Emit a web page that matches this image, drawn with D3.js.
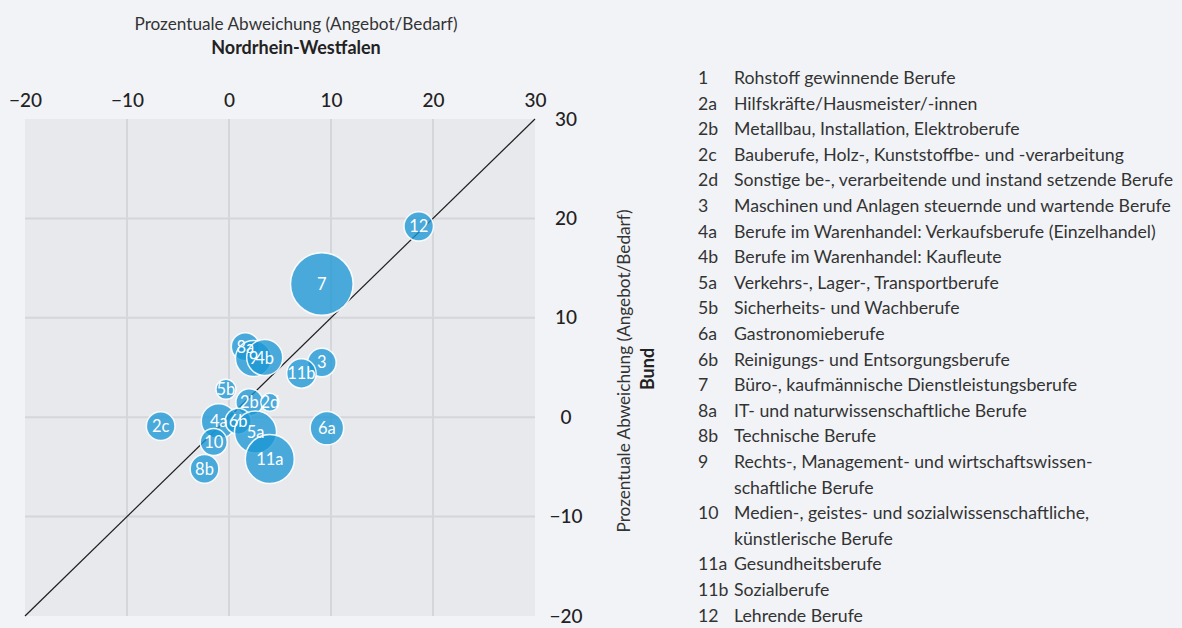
<!DOCTYPE html>
<html lang="de">
<head>
<meta charset="UTF-8">
<title>Prozentuale Abweichung NRW / Bund</title>
<script src="https://d3js.org/d3.v7.min.js"></script>
<style>
  body { margin: 0; background: #f2f3f7; }
  svg { font-family: Lato, "Noto Sans", sans-serif; }
</style>
</head>
<body>
<div id="chart"></div>
<script>
// Berufsgruppen (Kennung), Abweichung NRW (x), Abweichung Bund (y), Blasengroesse
const codes  = ["2c", "8a", "9", "4b", "3", "11b", "5b", "2b", "2d", "4a", "6b", "5a", "10", "8b", "11a", "6a", "12", "7"];
const nrw    = [-6.7, 1.6, 2.4, 3.5, 9.1, 7.1, -0.3, 2.0, 4.0, -1.0, 0.9, 2.6, -1.5, -2.4, 4.0, 9.6, 18.6, 9.1];
const bund   = [-0.9, 7.1, 5.9, 6.0, 5.5, 4.4, 2.8, 1.5, 1.5, -0.4, -0.4, -1.5, -2.5, -5.2, -4.2, -1.1, 19.2, 13.4];
const sizes  = [209, 200, 331, 331, 209, 221, 102, 186, 83, 313, 172, 450, 186, 209, 613, 285, 221, 1000];

const xTicks = [-20, -10, 0, 10, 20, 30];
const yTicks = [-20, -10, 0, 10, 20, 30];

const legendCodes = ["1", "2a", "2b", "2c", "2d", "3", "4a", "4b", "5a", "5b", "6a", "6b", "7", "8a", "8b", "9", "10", "11a", "11b", "12"];
const legendLabels = [
  "Rohstoff gewinnende Berufe",
  "Hilfskräfte/Hausmeister/-innen",
  "Metallbau, Installation, Elektroberufe",
  "Bauberufe, Holz-, Kunststoffbe- und -verarbeitung",
  "Sonstige be-, verarbeitende und instand setzende Berufe",
  "Maschinen und Anlagen steuernde und wartende Berufe",
  "Berufe im Warenhandel: Verkaufsberufe (Einzelhandel)",
  "Berufe im Warenhandel: Kaufleute",
  "Verkehrs-, Lager-, Transportberufe",
  "Sicherheits- und Wachberufe",
  "Gastronomieberufe",
  "Reinigungs- und Entsorgungsberufe",
  "Büro-, kaufmännische Dienstleistungsberufe",
  "IT- und naturwissenschaftliche Berufe",
  "Technische Berufe",
  "Rechts-, Management- und wirtschaftswissen-|schaftliche Berufe",
  "Medien-, geistes- und sozialwissenschaftliche,|künstlerische Berufe",
  "Gesundheitsberufe",
  "Sozialberufe",
  "Lehrende Berufe"
];

const W = 1182, H = 628;
const svg = d3.select('#chart').append('svg')
  .attr('width', W).attr('height', H);

const x = d3.scaleLinear().domain([-20, 30]).range([25, 535]);
const y = d3.scaleLinear().domain([-20, 30]).range([616, 119]);
const r = d3.scaleSqrt().domain([0, 1000]).range([0, 31.3]);

// Plotflaeche
svg.append('rect')
  .attr('x', x(-20)).attr('y', y(30))
  .attr('width', x(30) - x(-20)).attr('height', y(-20) - y(30))
  .attr('fill', '#e8e9ec');

// Gitternetz
svg.append('g').selectAll('line')
  .data(xTicks.slice(1, -1))
  .join('line')
  .attr('x1', d => x(d)).attr('x2', d => x(d))
  .attr('y1', y(30)).attr('y2', y(-20))
  .attr('stroke', '#d5d6da').attr('stroke-width', 2);

svg.append('g').selectAll('line')
  .data(yTicks.slice(1, -1))
  .join('line')
  .attr('y1', d => y(d)).attr('y2', d => y(d))
  .attr('x1', x(-20)).attr('x2', x(30))
  .attr('stroke', '#d5d6da').attr('stroke-width', 2);

// Diagonale
svg.append('line')
  .attr('x1', x(-20)).attr('y1', y(-20))
  .attr('x2', x(30)).attr('y2', y(30))
  .attr('stroke', '#1e1e1e').attr('stroke-width', 1.2);

// Achsen
const xAxis = svg.append('g')
  .attr('transform', `translate(0,${y(30)})`)
  .call(d3.axisTop(x).tickValues(xTicks).tickSize(0).tickPadding(12));
const yAxis = svg.append('g')
  .attr('transform', `translate(${x(30)},0)`)
  .call(d3.axisRight(y).tickValues(yTicks).tickSize(0));
[xAxis, yAxis].forEach(a => {
  a.select('.domain').remove();
  a.selectAll('text')
    .attr('font-family', 'Lato, sans-serif')
    .attr('font-size', 19)
    .attr('font-weight', 500)
    .attr('fill', '#222');
});
yAxis.selectAll('text').attr('text-anchor', 'middle').attr('x', 31);

// Achsentitel
svg.append('text')
  .attr('x', 296).attr('y', 30)
  .attr('text-anchor', 'middle')
  .attr('font-size', 17.2).attr('fill', '#333')
  .text('Prozentuale Abweichung (Angebot/Bedarf)');
svg.append('text')
  .attr('x', 296).attr('y', 54)
  .attr('text-anchor', 'middle')
  .attr('font-size', 18).attr('font-weight', 'bold').attr('fill', '#222')
  .text('Nordrhein-Westfalen');

svg.append('text')
  .attr('transform', 'translate(630,371) rotate(-90)')
  .attr('text-anchor', 'middle')
  .attr('font-size', 17.2).attr('fill', '#333')
  .text('Prozentuale Abweichung (Angebot/Bedarf)');
svg.append('text')
  .attr('transform', 'translate(654,369) rotate(-90)')
  .attr('text-anchor', 'middle')
  .attr('font-size', 18).attr('font-weight', 'bold').attr('fill', '#222')
  .text('Bund');

// Blasen
const data = codes.map((c, i) => ({ code: c, x: nrw[i], y: bund[i], s: sizes[i] }));

svg.append('g').selectAll('circle')
  .data(data)
  .join('circle')
  .attr('cx', d => x(d.x))
  .attr('cy', d => y(d.y))
  .attr('r', d => r(d.s))
  .attr('fill', '#1b97d5')
  .attr('fill-opacity', 0.78)
  .attr('stroke', '#fff')
  .attr('stroke-opacity', 0.9)
  .attr('stroke-width', 1.5);

svg.append('g').selectAll('text')
  .data(data)
  .join('text')
  .attr('x', d => x(d.x))
  .attr('y', d => y(d.y))
  .attr('dy', '0.36em')
  .attr('text-anchor', 'middle')
  .attr('font-size', 16.5)
  .attr('fill', '#fff')
  .text(d => d.code);

// Legende
const lineH = 25.6;
let row = 0;
const leg = svg.append('g').attr('font-size', 17.7).attr('fill', '#333');
legendCodes.forEach((c, i) => {
  const yy = 84 + row * lineH;
  leg.append('text').attr('x', 698).attr('y', yy).text(c);
  legendLabels[i].split('|').forEach((part, j) => {
    leg.append('text').attr('x', 734).attr('y', yy + j * lineH).text(part);
  });
  row += legendLabels[i].split('|').length;
});
</script>
</body>
</html>
